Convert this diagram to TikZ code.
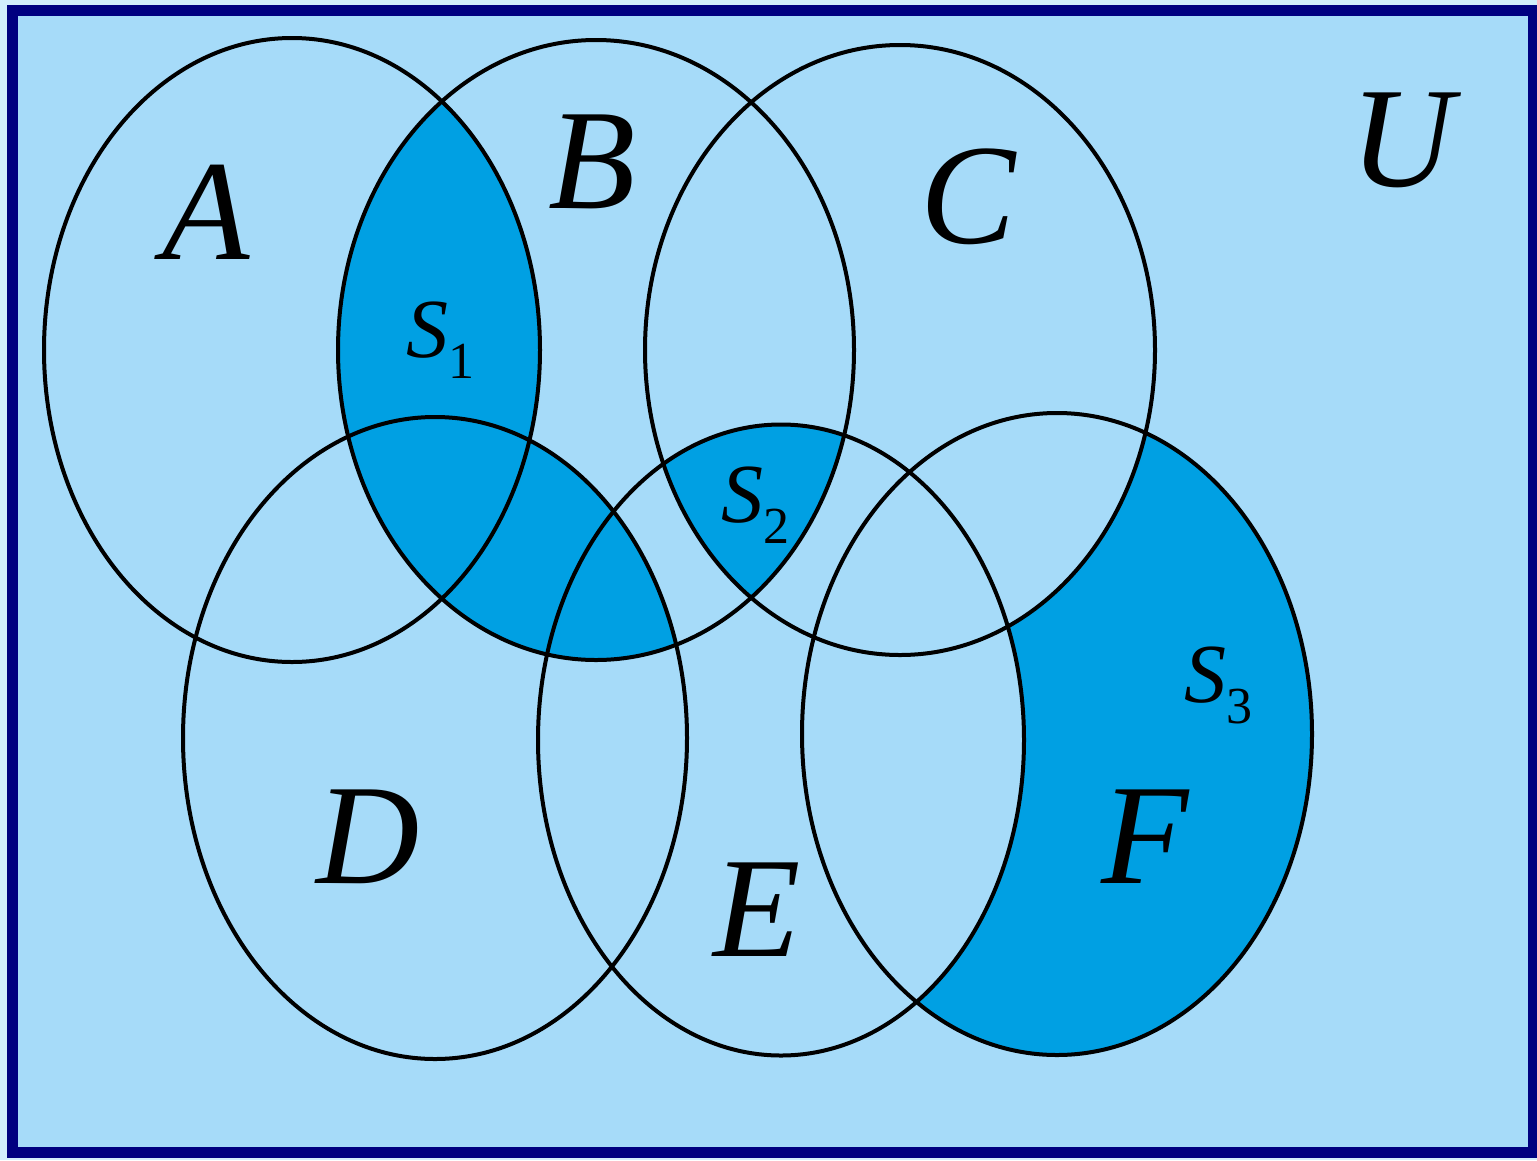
\documentclass[tikz,border=0pt]{standalone}
\usepackage{fontspec}
\setmainfont{Liberation Serif}
\definecolor{outerbg}{HTML}{D2EEFC}
\definecolor{lightfill}{HTML}{A6DBF9}
\definecolor{darkfill}{HTML}{00A0E3}
\definecolor{navy}{HTML}{000080}
\begin{document}
\begin{tikzpicture}[x=1pt,y=-1pt,
  outline/.style={draw=black,line width=4pt},
  biglabel/.style={font=\fontsize{143}{143}\selectfont\itshape,inner sep=0pt},
  slabel/.style={font=\fontsize{84}{84}\selectfont,inner sep=0pt}]
\useasboundingbox (0,0) rectangle (1537,1160);
\fill[outerbg] (0,0) rectangle (1537,1160);
\draw[navy,line width=11pt,fill=lightfill] (12.5,10) rectangle (1533,1152.5);
% centres
\coordinate (cA) at (292,350);
\coordinate (cB) at (596,350);
\coordinate (cC) at (900,350);
\coordinate (cD) at (435,738);
\coordinate (cE) at (781,740);
\coordinate (cF) at (1057,734);
\def\elA{(cA) ellipse [x radius=248, y radius=312]}
\def\elB{(cB) ellipse [x radius=258, y radius=310]}
\def\elC{(cC) ellipse [x radius=255, y radius=305]}
\def\elD{(cD) ellipse [x radius=252, y radius=321]}
\def\elE{(cE) ellipse [x radius=243, y radius=315.5]}
\def\elF{(cF) ellipse [x radius=255, y radius=321]}
% S1 = B cap (A cup D)
\begin{scope}
  \clip \elB;
  \fill[darkfill] \elA;
  \fill[darkfill] \elD;
\end{scope}
% S2 = B cap C cap E
\begin{scope}
  \clip \elB;
  \clip \elC;
  \fill[darkfill] \elE;
\end{scope}
% S3 = F minus (C cup E)
\fill[darkfill] \elF;
\begin{scope}
  \clip \elF;
  \fill[lightfill] \elC;
  \fill[lightfill] \elE;
\end{scope}
% outlines
\draw[outline] \elA;
\draw[outline] \elB;
\draw[outline] \elC;
\draw[outline] \elD;
\draw[outline] \elE;
\draw[outline] \elF;
% labels
\node[biglabel] (lA) at (206,212) {A};
\node[biglabel] (lB) at (592,162) {B};
\node[biglabel] (lC) at (968,197) {C};
\node[biglabel] (lU) at (1402,140) {U};
\node[biglabel] (lD) at (368,837) {D};
\node[biglabel] (lE) at (757,910) {E};
\node[biglabel] (lF) at (1145,837) {F};
\node[slabel] (s1) at (440,340) {\textit{S}\raisebox{-0.25em}{\fontsize{52}{52}\selectfont 1}};
\node[slabel] (s2) at (755,505) {\textit{S}\raisebox{-0.25em}{\fontsize{52}{52}\selectfont 2}};
\node[slabel] (s3) at (1218,685) {\textit{S}\raisebox{-0.25em}{\fontsize{52}{52}\selectfont 3}};
\end{tikzpicture}
\end{document}
